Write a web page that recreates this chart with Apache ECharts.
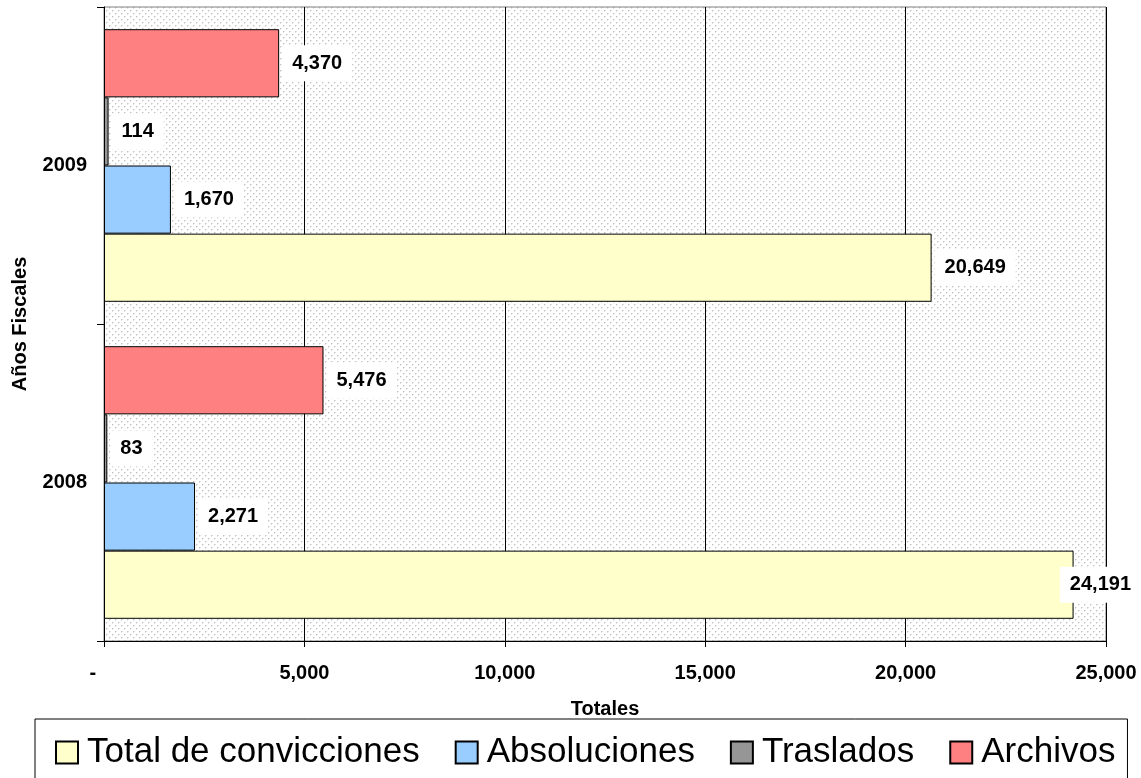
<!DOCTYPE html>
<html>
<head>
<meta charset="utf-8">
<script src="https://cdn.jsdelivr.net/npm/echarts@6/dist/echarts.min.js"></script>
<style>
  html, body { margin: 0; padding: 0; background: #fff; }
  #chart { width: 1141px; height: 778px; }
</style>
</head>
<body>
<div id="chart"></div>
<script>
const years = ['2008', '2009']
const seriesNames = ['Total de convicciones', 'Absoluciones', 'Traslados', 'Archivos']
const totalConvicciones = [24191, 20649]
const absoluciones = [2271, 1670]
const traslados = [83, 114]
const archivos = [5476, 4370]
const colors = ['#FFFFCC', '#99CCFF', '#969696', '#FF8080']

const font = 'Arial, "Liberation Sans", sans-serif'

// dotted plot background
function dotPattern() {
  const c = document.createElement('canvas')
  c.width = 6
  c.height = 6
  const ctx = c.getContext('2d')
  ctx.fillStyle = '#ffffff'
  ctx.fillRect(0, 0, 6, 6)
  ctx.fillStyle = '#c4c4c4'
  ctx.fillRect(1, 1, 1, 1)
  ctx.fillRect(4, 4, 1, 1)
  ctx.fillStyle = '#e2e2e2'
  ctx.fillRect(2, 1, 1, 1)
  ctx.fillRect(1, 2, 1, 1)
  ctx.fillRect(5, 4, 1, 1)
  ctx.fillRect(4, 5, 1, 1)
  return c
}

function fmt(v) {
  return v === 0 ? '-' : v.toLocaleString('en-US')
}

const data = [totalConvicciones, absoluciones, traslados, archivos]
// ECharts stacks horizontal bar series top-down, so feed them reversed
const drawOrder = [3, 2, 1, 0]

const chartEl = document.getElementById('chart')
const chart = echarts.init(chartEl)

chart.setOption({
  animation: false,
  textStyle: { fontFamily: font },
  grid: {
    left: 104, right: 35, top: 7, bottom: 137,
    show: true,
    backgroundColor: { image: dotPattern(), repeat: 'repeat' },
    borderColor: '#808080',
    borderWidth: 1
  },
  legend: {
    top: 719,
    left: 35,
    data: seriesNames,
    icon: 'rect',
    itemWidth: 22,
    itemHeight: 22,
    itemGap: 35,
    padding: [16, 12, 30, 20],
    borderColor: '#000',
    borderWidth: 1,
    backgroundColor: '#fff',
    textStyle: { fontSize: 35, color: '#000', fontFamily: font, padding: [0, 0, 0, 4] }
  },
  xAxis: {
    type: 'value',
    min: 0,
    max: 25000,
    interval: 5000,
    name: 'Totales',
    nameLocation: 'middle',
    nameGap: 58,
    nameTextStyle: { fontSize: 20, fontWeight: 'bold', color: '#000' },
    axisLine: { show: true, lineStyle: { color: '#000' } },
    axisTick: { show: true, length: 6, lineStyle: { color: '#000' } },
    axisLabel: {
      margin: 22,
      fontSize: 20,
      fontWeight: 'bold',
      color: '#000',
      // accounting format pads the dash with trailing space
      formatter: (v) => (v === 0 ? '-    ' : fmt(v))
    },
    splitLine: { show: true, lineStyle: { color: '#000', width: 1 } }
  },
  yAxis: {
    type: 'category',
    data: years,
    name: 'Años Fiscales',
    nameLocation: 'middle',
    nameRotate: 90,
    nameGap: 74,
    nameTextStyle: { fontSize: 20, fontWeight: 'bold', color: '#000' },
    axisLine: { show: true, lineStyle: { color: '#000' } },
    axisTick: { show: true, length: 7, lineStyle: { color: '#000' } },
    axisLabel: { margin: 17, fontSize: 20, fontWeight: 'bold', color: '#000' }
  },
  series: drawOrder.map((i) => ({
    name: seriesNames[i],
    type: 'bar',
    data: data[i],
    barGap: '0%',
    barCategoryGap: '14%',
    itemStyle: { color: colors[i], borderColor: '#000', borderWidth: 1 },
    label: {
      show: true,
      position: 'right',
      distance: 3,
      fontSize: 20,
      fontWeight: 'bold',
      color: '#000',
      backgroundColor: '#fff',
      padding: [8, 10],
      formatter: (p) => fmt(p.value)
    },
    // keep labels inside the canvas, like the spreadsheet does
    labelLayout: (p) => {
      const r = p.labelRect
      const over = r.x + r.width - chartEl.clientWidth
      return over > 0 ? { x: r.x - over, y: r.y } : {}
    }
  }))
})
</script>
</body>
</html>
